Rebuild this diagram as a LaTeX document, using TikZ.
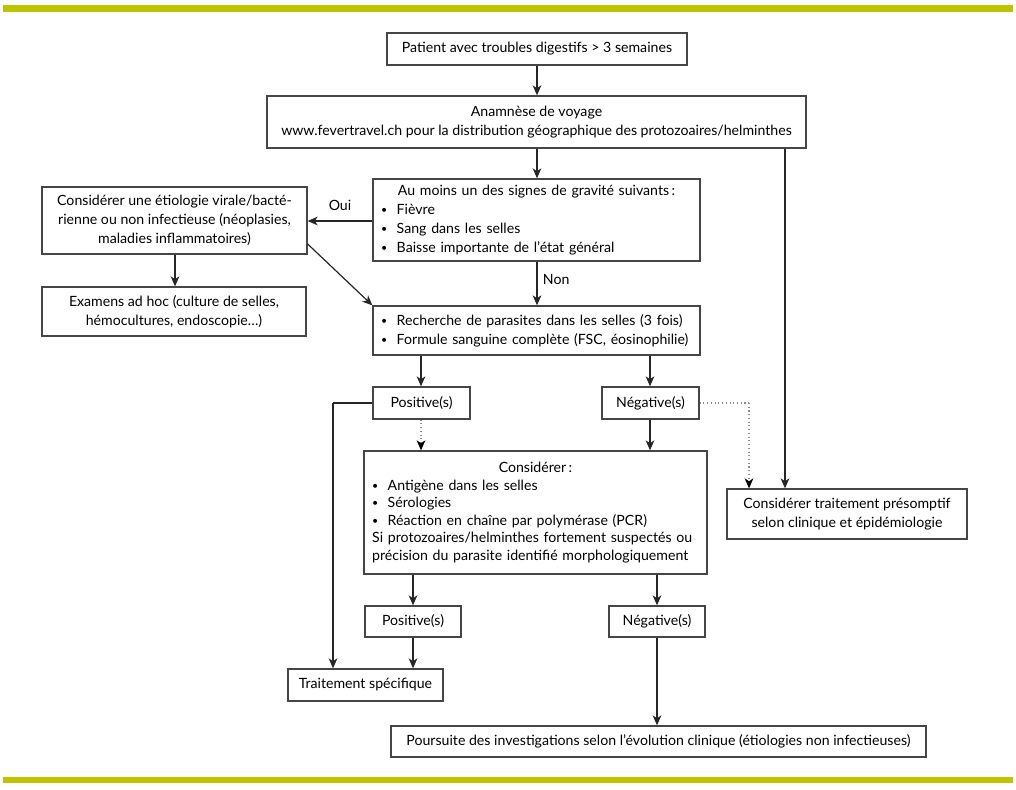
\documentclass[tikz,border=0pt]{standalone}
\usepackage{fontspec}
\usepackage{graphicx}
\setmainfont{Lato}
\usetikzlibrary{arrows.meta}
\definecolor{barc}{RGB}{190,196,0}
\definecolor{boxc}{RGB}{70,70,70}
\newcommand\bul{\raisebox{0.12ex}{\scalebox{0.75}{\textbullet}}\ \ }
\begin{document}
\begin{tikzpicture}[x=0.75pt,y=-0.75pt,
  box/.style={draw=boxc, line width=1pt, inner sep=0pt, anchor=center, font=\fontsize{10.6}{14.2}\selectfont},
  rect/.style n args={4}{minimum width={(#3-#1)*0.75pt}, minimum height={(#4-#2)*0.75pt}, at={({(#1+#3)/2},{(#2+#4)/2})}},
  arr/.style={draw=black!85, line width=0.9pt, -{Stealth[length=7.5pt,width=6.5pt,inset=2.2pt]}},
  plain/.style={draw=black!85, line width=0.9pt},
  dotarr/.style={draw=black!45, line width=0.8pt, dotted, -{Stealth[length=7.5pt,width=6.5pt,inset=2.2pt,color=black]}},
  dotline/.style={draw=black!45, line width=0.8pt, dotted},
  lab/.style={font=\fontsize{10.6}{12}\selectfont, inner sep=1pt}
]
\useasboundingbox (0,0) rectangle (1016,789);
\fill[barc] (3,5) rectangle (1013,12);
\fill[barc] (3,777) rectangle (1013,783);

\node[box, rect={387}{33}{687}{65}] (b1) {Patient avec troubles digestifs > 3 semaines};
\node[box, rect={267}{96}{806}{148}, align=center] (b2) {Anamnèse de voyage\\www.fevertravel.ch pour la distribution géographique des protozoaires/helminthes};
\node[box, rect={42}{187}{307}{254}, align=center] (etio) {Considérer une étiologie virale/bacté-\\rienne ou non infectieuse (néoplasies,\\maladies inflammatoires)};
\node[box, rect={42}{287}{306}{336}, align=center] (exam) {Examens ad hoc (culture de selles,\\hémocultures, endoscopie…)};
\node[box, rect={373}{179}{700}{261}, text width=233pt, align=left] (grav) {\makebox[233pt][c]{Au moins un des signes de gravité suivants\,:}\\\bul Fièvre\\\bul Sang dans les selles\\\bul Baisse importante de l’état général};
\node[box, rect={373}{306}{700}{355}, text width=233pt, align=left] (rech) {\bul Recherche de parasites dans les selles (3 fois)\\\bul Formule sanguine complète (FSC, éosinophilie)};
\node[box, rect={373}{387}{470}{419}] (pos1) {Positive(s)};
\node[box, rect={602}{387}{699}{419}] (neg1) {Négative(s)};
\node[box, rect={364}{451}{707}{574}, text width=245pt, align=left, font=\fontsize{10.6}{13.1}\selectfont] (cons) {\makebox[245pt][c]{Considérer\,:}\\\bul Antigène dans les selles\\\bul Sérologies\\\bul Réaction en chaîne par polymérase (PCR)\\Si protozoaires/helminthes fortement suspectés ou\\précision du parasite identifié morphologiquement};
\node[box, rect={727}{489}{967}{539}, align=center] (pres) {Considérer traitement présomptif\\selon clinique et épidémiologie};
\node[box, rect={365}{606}{461}{637}] (pos2) {Positive(s)};
\node[box, rect={609}{606}{705}{637}] (neg2) {Négative(s)};
\node[box, rect={288}{669}{443}{701}] (trait) {Traitement spécifique};
\node[box, rect={391}{726}{926}{757}] (pours) {Poursuite des investigations selon l’évolution clinique (étiologies non infectieuses)};

\coordinate (c1) at (333,403);
\coordinate (c2) at (749,403);

\draw[arr] (b1.south -| 537,0) -- (b2.north -| 537,0);
\draw[arr] (b2.south -| 537,0) -- (grav.north -| 537,0);
\draw[arr] (b2.south -| 785,0) -- (pres.north -| 785,0);
\draw[arr] (grav.west |- 0,221) -- (etio.east |- 0,221) node[lab, pos=0.5, above=6pt] (oui) {Oui};
\draw[arr] (grav.south -| 537,0) -- (rech.north -| 537,0) node[lab, pos=0.4, right=3pt] (non) {Non};
\draw[arr] (etio.south -| 175,0) -- (exam.north -| 175,0);
\draw[arr] (etio.east |- 0,244) -- (rech.north west);
\draw[arr] (rech.south -| 421,0) -- (pos1.north -| 421,0);
\draw[arr] (rech.south -| 650,0) -- (neg1.north -| 650,0);
\draw[plain] (pos1.west) -- (c1);
\draw[arr] (c1) -- (trait.north -| c1);
\draw[dotarr] (pos1.south -| 421,0) -- (cons.north -| 421,0);
\draw[arr] (neg1.south -| 650,0) -- (cons.north -| 650,0);
\draw[dotline] (neg1.east) -- (c2);
\draw[dotarr] (c2) -- (pres.north -| c2);
\draw[arr] (cons.south -| 413,0) -- (pos2.north -| 413,0);
\draw[arr] (cons.south -| 657,0) -- (neg2.north -| 657,0);
\draw[arr] (pos2.south -| 413,0) -- (trait.north -| 413,0);
\draw[arr] (neg2.south -| 657,0) -- (pours.north -| 657,0);
\end{tikzpicture}
\end{document}
